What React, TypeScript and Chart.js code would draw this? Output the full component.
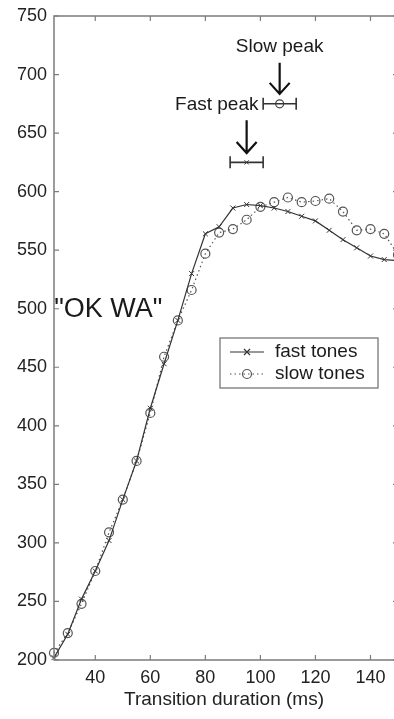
import React, { useEffect, useRef } from "react";
import { Chart, registerables } from "chart.js";
Chart.register(...registerables);

const durations = [25, 30, 35, 40, 45, 50, 55, 60, 65, 70, 75, 80, 85, 90, 95, 100, 105, 110, 115, 120, 125, 130, 135, 140, 145, 150];
const fastTones = [202, 222, 252, 276, 302, 337, 370, 415, 453, 490, 530, 564, 570, 586, 589, 588, 586, 583, 579, 575, 567, 559, 552, 545, 542, 541];
const slowTones = [206, 223, 248, 276, 309, 337, 370, 411, 459, 490, 516, 547, 565, 568, 576, 587, 591, 595, 591, 592, 594, 583, 567, 568, 564, 546];
const xTicks = [40, 60, 80, 100, 120, 140];
const yTicks = [200, 250, 300, 350, 400, 450, 500, 550, 600, 650, 700, 750];
const seriesLabels = ["fast tones", "slow tones"];

// peak estimates with error bars: [fast, slow]
const peakX = [95, 107];
const peakY = [625, 675];
const peakLow = [89, 101];
const peakHigh = [101, 113];
const peakLabels = ["Fast peak", "Slow peak"];
const peakLabelX = [99.3, 107];
const peakLabelY = [674, 724];
const arrowX = [95, 107];
const arrowFrom = [661, 710];
const arrowTo = [633, 683.5];
const stimulusLabel = '"OK WA"';
const stimulusX = 25.1;
const stimulusY = 499;
const xTitle = "Transition duration (ms)";

const FONT = "'Liberation Sans', Arial, Helvetica, sans-serif";

const overlay = {
  id: "overlay",
  afterDatasetsDraw(chart: any) {
    const ctx = chart.ctx;
    const xs = chart.scales.x;
    const ys = chart.scales.y;
    const a = chart.chartArea;
    ctx.save();
    // frame
    ctx.strokeStyle = "#7c7c7c";
    ctx.lineWidth = 1.5;
    ctx.beginPath();
    ctx.rect(a.left, a.top, a.right - a.left, a.bottom - a.top);
    ctx.stroke();
    ctx.lineWidth = 1.2;
    const tl = 5;
    ctx.beginPath();
    xTicks.forEach((v) => {
      const px = xs.getPixelForValue(v);
      ctx.moveTo(px, a.bottom);
      ctx.lineTo(px, a.bottom - tl);
      ctx.moveTo(px, a.top);
      ctx.lineTo(px, a.top + tl);
    });
    yTicks.forEach((v) => {
      const py = ys.getPixelForValue(v);
      ctx.moveTo(a.left, py);
      ctx.lineTo(a.left + tl, py);
      ctx.moveTo(a.right, py);
      ctx.lineTo(a.right - tl, py);
    });
    ctx.stroke();

    // error bars
    ctx.strokeStyle = "#333";
    ctx.lineWidth = 1.6;
    peakX.forEach((_, i) => {
      const py = ys.getPixelForValue(peakY[i]);
      const l = xs.getPixelForValue(peakLow[i]);
      const r = xs.getPixelForValue(peakHigh[i]);
      ctx.beginPath();
      ctx.moveTo(l, py);
      ctx.lineTo(r, py);
      ctx.moveTo(l, py - 6);
      ctx.lineTo(l, py + 6);
      ctx.moveTo(r, py - 6);
      ctx.lineTo(r, py + 6);
      ctx.stroke();
    });

    // arrows
    ctx.strokeStyle = "#111";
    ctx.lineWidth = 2.2;
    arrowX.forEach((v, i) => {
      const px = xs.getPixelForValue(v);
      const y0 = ys.getPixelForValue(arrowFrom[i]);
      const y1 = ys.getPixelForValue(arrowTo[i]);
      ctx.beginPath();
      ctx.moveTo(px, y0);
      ctx.lineTo(px, y1);
      ctx.moveTo(px - 10, y1 - 11);
      ctx.lineTo(px, y1);
      ctx.lineTo(px + 10, y1 - 11);
      ctx.stroke();
    });

    // texts
    ctx.fillStyle = "#1a1a1a";
    ctx.textBaseline = "middle";
    ctx.font = `19px ${FONT}`;
    ctx.textAlign = "right";
    ctx.fillText(peakLabels[0], xs.getPixelForValue(peakLabelX[0]), ys.getPixelForValue(peakLabelY[0]));
    ctx.textAlign = "center";
    ctx.fillText(peakLabels[1], xs.getPixelForValue(peakLabelX[1]), ys.getPixelForValue(peakLabelY[1]));
    ctx.font = `27px ${FONT}`;
    ctx.textAlign = "left";
    ctx.fillText(stimulusLabel, xs.getPixelForValue(stimulusX), ys.getPixelForValue(stimulusY));

    // x title
    ctx.font = `19px ${FONT}`;
    ctx.textAlign = "center";
    ctx.fillStyle = "#222";
    ctx.fillText(xTitle, 224, 700);

    // legend
    const bx = 220, by = 338, bw = 158, bh = 50;
    ctx.fillStyle = "#fff";
    ctx.fillRect(bx, by, bw, bh);
    ctx.strokeStyle = "#777";
    ctx.lineWidth = 1.3;
    ctx.strokeRect(bx, by, bw, bh);
    const rows = [by + 14, by + 36];
    seriesLabels.forEach((lab, i) => {
      const ds = chart.data.datasets[i];
      const y = rows[i];
      ctx.strokeStyle = ds.borderColor;
      ctx.lineWidth = 1.2;
      ctx.setLineDash(i === 1 ? [1.5, 3] : []);
      ctx.beginPath();
      ctx.moveTo(230, y);
      ctx.lineTo(264, y);
      ctx.stroke();
      ctx.setLineDash([]);
      ctx.beginPath();
      if (i === 0) {
        ctx.moveTo(247 - 3, y - 3);
        ctx.lineTo(247 + 3, y + 3);
        ctx.moveTo(247 - 3, y + 3);
        ctx.lineTo(247 + 3, y - 3);
      } else {
        ctx.arc(247, y, 4.5, 0, Math.PI * 2);
      }
      ctx.stroke();
      ctx.fillStyle = "#1a1a1a";
      ctx.font = `19px ${FONT}`;
      ctx.textAlign = "left";
      ctx.fillText(lab, 275, y);
    });
    ctx.restore();
  },
};

export default function App() {
  const ref = useRef<HTMLCanvasElement | null>(null);
  useEffect(() => {
    if (!ref.current) return;
    const chart = new Chart(ref.current, {
      type: "line",
      data: {
        datasets: [
          {
            label: seriesLabels[0],
            data: durations.map((d, i) => ({ x: d, y: fastTones[i] })),
            borderColor: "#333",
            borderWidth: 1.2,
            pointStyle: "crossRot",
            pointRadius: 3.5,
            pointBorderWidth: 1,
            pointBorderColor: "#333",
            pointBackgroundColor: "rgba(0,0,0,0)",
            clip: false,
          },
          {
            label: seriesLabels[1],
            data: durations.map((d, i) => ({ x: d, y: slowTones[i] })),
            borderColor: "#555",
            borderWidth: 1.2,
            borderDash: [1.5, 3],
            pointStyle: "circle",
            pointRadius: 4.5,
            pointBorderWidth: 1.2,
            pointBorderColor: "#555",
            pointBackgroundColor: "rgba(0,0,0,0)",
            clip: false,
          },
          {
            label: "fast peak",
            data: [{ x: peakX[0], y: peakY[0] }],
            showLine: false,
            pointStyle: "crossRot",
            pointRadius: 3,
            pointBorderWidth: 1,
            pointBorderColor: "#444",
            borderColor: "#444",
          },
          {
            label: "slow peak",
            data: [{ x: peakX[1], y: peakY[1] }],
            showLine: false,
            pointStyle: "circle",
            pointRadius: 4,
            pointBorderWidth: 1.2,
            pointBorderColor: "#444",
            pointBackgroundColor: "rgba(0,0,0,0)",
            borderColor: "#444",
          },
        ],
      },
      options: {
        animation: false,
        responsive: false,
        devicePixelRatio: 1,
        layout: { autoPadding: false, padding: { top: 16, right: 0, left: 0, bottom: 0 } },
        plugins: { legend: { display: false }, tooltip: { enabled: false } },
        scales: {
          x: {
            type: "linear",
            min: 25,
            max: 150,
            grid: { display: false, drawTicks: false, tickLength: 0 },
            border: { display: false },
            afterBuildTicks: (s: any) => {
              s.ticks = xTicks.map((v) => ({ value: v }));
            },
            afterFit: (s: any) => {
              s.height = 59;
              s.paddingLeft = 0;
              s.paddingRight = 0;
            },
            ticks: {
              padding: 7,
              color: "#222",
              font: { family: FONT, size: 18 },
              maxRotation: 0,
            },
          },
          y: {
            type: "linear",
            min: 200,
            max: 750,
            grid: { display: false, drawTicks: false, tickLength: 0 },
            border: { display: false },
            afterBuildTicks: (s: any) => {
              s.ticks = yTicks.map((v) => ({ value: v }));
            },
            afterFit: (s: any) => {
              s.width = 54;
              s.paddingTop = 0;
              s.paddingBottom = 0;
            },
            ticks: {
              padding: 7,
              color: "#222",
              font: { family: FONT, size: 18 },
            },
          },
        },
      },
      plugins: [overlay],
    });
    return () => chart.destroy();
  }, []);
  return (
    <div style={{ position: "absolute", left: 0, top: 0, width: 394, height: 719, overflow: "hidden", background: "#fff" }}>
      <canvas ref={ref} width={398} height={719} style={{ display: "block" }} />
    </div>
  );
}
